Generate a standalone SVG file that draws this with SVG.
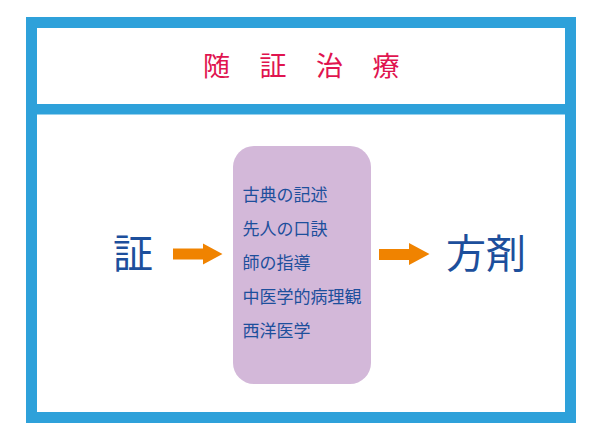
<svg xmlns="http://www.w3.org/2000/svg" width="600" height="438" viewBox="0 0 600 438">
<style>
.jp{font-family:"Noto Sans CJK JP","Noto Sans CJK SC",sans-serif}
.item{font-size:17px;fill:#1d4f9c}
.big{font-size:40px;fill:#1d4f9c}
.arrow{fill:#f08300}
</style>
<rect width="600" height="438" fill="#ffffff"/>
<g id="frame">
<rect x="31.5" y="22.5" width="539" height="395" fill="#ffffff" stroke="#2ea1da" stroke-width="11"/>
<rect x="26" y="104" width="550" height="10.5" fill="#2ea1da"/>
</g>
<g id="title">
<text class="jp" y="75.5" font-size="27" fill="#e0144f"><tspan x="203">随</tspan> <tspan x="259.5">証</tspan> <tspan x="316">治</tspan> <tspan x="372.5">療</tspan></text>
</g>
<g id="sho">
<text class="jp big" x="113" y="268">証</text>
</g>
<g id="basis">
<rect x="233" y="146" width="138" height="238" rx="21" fill="#d3b8d9"/>
<text class="jp item" x="242.5" y="200.5">古典の記述</text>
<text class="jp item" x="242.5" y="234.5">先人の口訣</text>
<text class="jp item" x="242.5" y="268.5">師の指導</text>
<text class="jp item" x="242.5" y="302.5">中医学的病理観</text>
<text class="jp item" x="242.5" y="337">西洋医学</text>
</g>
<g id="houzai">
<text class="jp big" x="446" y="268">方剤</text>
</g>
<g id="connectors">
<polygon class="arrow" points="173,248.5 203,248.5 203,243.5 222.5,254 203,264.5 203,259.5 173,259.5"/>
<polygon class="arrow" points="379,249 409,249 409,243 429.5,254 409,265 409,260 379,260"/>
</g>
</svg>
